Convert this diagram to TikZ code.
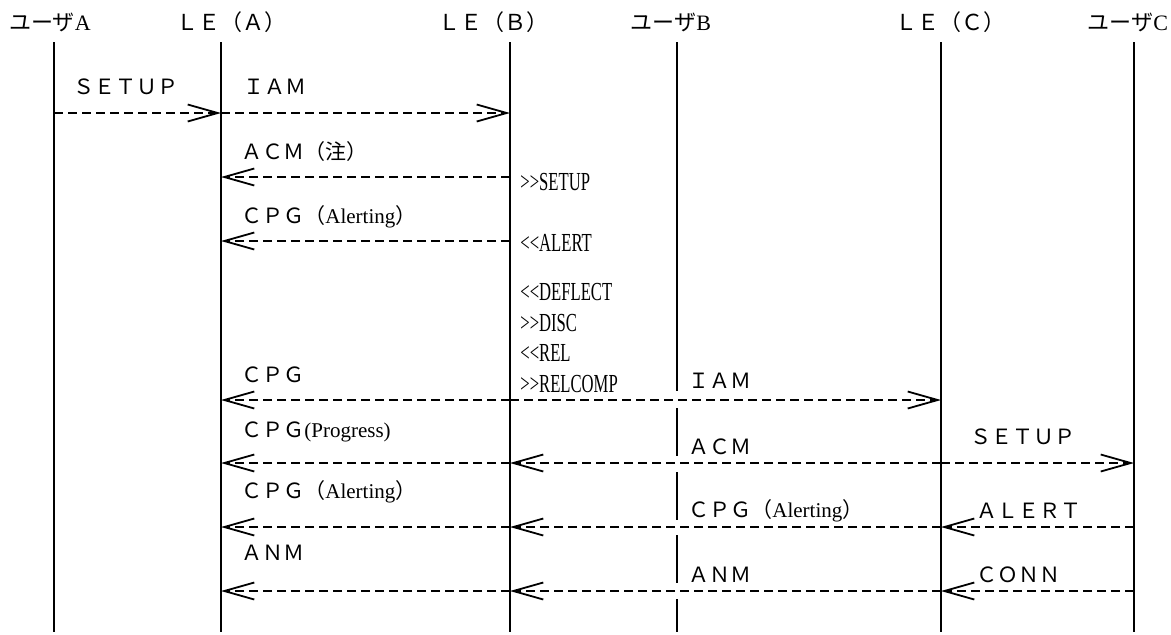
\documentclass[tikz,border=0pt]{standalone}
\usepackage{fontspec}
\setmainfont{Liberation Serif}
\newfontfamily\jpfont{Noto Sans CJK JP}
\usepackage{graphicx}
\usetikzlibrary{arrows.meta}

\newcommand{\narrowtxt}[1]{\scalebox{0.64}[1]{#1}}

\begin{document}
\begin{tikzpicture}[
    x=0.5pt, y=-0.5pt,
    party/.style={font=\jpfont\fontsize{11}{12}\selectfont, inner sep=0pt},
    life/.style={line width=1pt},
    msg/.style={line width=0.9pt, dash pattern=on 4.5pt off 2.5pt, -{Straight Barb[length=15pt,width=8.5pt]}},
    lbl/.style={font=\jpfont\fontsize{10.5}{12}\selectfont, anchor=west, inner sep=0pt},
    note/.style={font=\fontsize{13}{14}\selectfont, anchor=west, inner sep=0pt}
]
\useasboundingbox (0,0) rectangle (1171,634);

% Teilnehmer
\node[party] (uA) at (50,22) {ユーザ\rmfamily A};
\node[party] (leA) at (231,22) {ＬＥ（Ａ）};
\node[party] (leB) at (493,22) {ＬＥ（Ｂ）};
\node[party] (uB) at (671,22) {ユーザ\rmfamily B};
\node[party] (leC) at (950,22) {ＬＥ（Ｃ）};
\node[party] (uC) at (1128,22) {ユーザ\rmfamily C};

% Lebenslinien
\foreach \n/\x in {uA/54, leA/221, leB/510, leC/941, uC/1134}
  \draw[life] (\x,42) coordinate (\n-top) -- (\x,632) coordinate (\n-bot);
\coordinate (uB-top) at (677,42);
\foreach \a/\b in {42/391, 408/456, 472/520, 535/583, 599/632}
  \draw[life] (677,\a) -- (677,\b);

% Zeilen
\coordinate (r1) at (0,113);
\coordinate (r2) at (0,177);
\coordinate (r3) at (0,241);
\coordinate (r4) at (0,400);
\coordinate (r5) at (0,463);
\coordinate (r6) at (0,527);
\coordinate (r7) at (0,591);

% Nachrichten
\draw[msg] (uA-top |- r1) -- (leA-top |- r1);
\draw[msg] (leA-top |- r1) -- (leB-top |- r1);
\draw[msg] (leB-top |- r2) -- (leA-top |- r2);
\draw[msg] (leB-top |- r3) -- (leA-top |- r3);
\draw[msg] (leB-top |- r4) -- (leA-top |- r4);
\draw[msg] (leB-top |- r4) -- (leC-top |- r4);
\draw[msg] (leB-top |- r5) -- (leA-top |- r5);
\draw[msg] (leC-top |- r5) -- (leB-top |- r5);
\draw[msg] (leC-top |- r5) -- (uC-top |- r5);
\draw[msg] (leB-top |- r6) -- (leA-top |- r6);
\draw[msg] (leC-top |- r6) -- (leB-top |- r6);
\draw[msg] (uC-top |- r6) -- (leC-top |- r6);
\draw[msg] (leB-top |- r7) -- (leA-top |- r7);
\draw[msg] (leC-top |- r7) -- (leB-top |- r7);
\draw[msg] (uC-top |- r7) -- (leC-top |- r7);

% Beschriftungen
\node[lbl, xshift=9.5pt, yshift=13pt] (lb1) at (uA-top |- r1) {ＳＥＴＵＰ};
\node[lbl, xshift=11pt, yshift=13pt] (lb2) at (leA-top |- r1) {ＩＡＭ};
\node[lbl, xshift=10pt, yshift=12.5pt] (lb3) at (leA-top |- r2) {ＡＣＭ（注）};
\node[lbl, xshift=10pt, yshift=12pt] (lb4) at (leA-top |- r3) {ＣＰＧ（\rmfamily Alerting\jpfont ）};
\node[lbl, xshift=10pt, yshift=12.5pt] (lb5) at (leA-top |- r4) {ＣＰＧ};
\node[lbl, xshift=5.5pt, yshift=9.5pt] (lb6) at (uB-top |- r4) {ＩＡＭ};
\node[lbl, xshift=10pt, yshift=15.5pt] (lb7) at (leA-top |- r5) {ＣＰＧ\rmfamily (Progress)};
\node[lbl, xshift=5.5pt, yshift=8pt] (lb8) at (uB-top |- r5) {ＡＣＭ};
\node[lbl, xshift=14.5pt, yshift=13pt] (lb9) at (leC-top |- r5) {ＳＥＴＵＰ};
\node[lbl, xshift=10pt, yshift=17.5pt] (lb10) at (leA-top |- r6) {ＣＰＧ（\rmfamily Alerting\jpfont ）};
\node[lbl, xshift=5.5pt, yshift=8pt] (lb11) at (uB-top |- r6) {ＣＰＧ（\rmfamily Alerting\jpfont ）};
\node[lbl, xshift=17.5pt, yshift=8pt] (lb12) at (leC-top |- r6) {ＡＬＥＲＴ};
\node[lbl, xshift=10pt, yshift=19pt] (lb13) at (leA-top |- r7) {ＡＮＭ};
\node[lbl, xshift=5.5pt, yshift=8pt] (lb14) at (uB-top |- r7) {ＡＮＭ};
\node[lbl, xshift=17.5pt, yshift=8pt] (lb15) at (leC-top |- r7) {ＣＯＮＮ};

% Meldungen an LE(B)
\foreach \t/\y [count=\i] in {>{}>SETUP/182, <{}<ALERT/243, <{}<DEFLECT/292, >{}>DISC/323, <{}<REL/353, >{}>RELCOMP/384}
  \node[note, xshift=5pt] (nt\i) at (leB-top |- 0,\y) {\narrowtxt{\t}};

\end{tikzpicture}
\end{document}
